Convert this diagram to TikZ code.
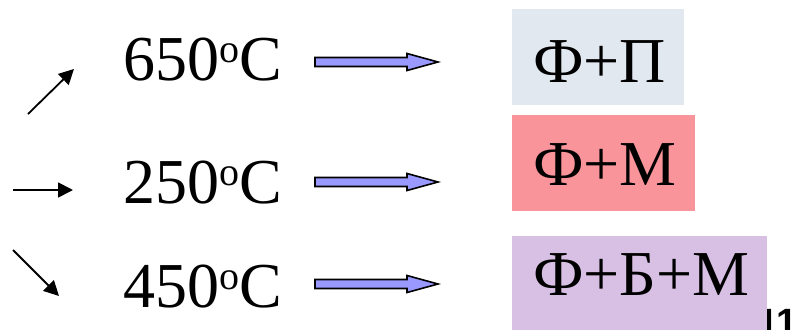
\documentclass[tikz,border=0pt]{standalone}
\usepackage{fontspec}
\setmainfont{Liberation Serif}
\newfontfamily\lsans{Liberation Sans}
\usetikzlibrary{arrows.meta}
\definecolor{boxgrey}{RGB}{226,232,239}
\definecolor{boxpink}{RGB}{250,148,155}
\definecolor{boxlilac}{RGB}{216,192,228}
\definecolor{arrowblue}{RGB}{153,153,255}
\newcommand{\dego}{{\fontsize{40}{40}\selectfont\raisebox{18pt}{o}}}
\tikzset{
  temp/.style={anchor=base west, inner sep=0pt, font=\fontsize{64}{70}\selectfont},
  phase/.style={anchor=north west, inner ysep=0pt, inner xsep=21pt, align=left,
                font=\fontsize{64}{70}\selectfont},
  thinarrow/.style={line width=1.8pt, -{Triangle[length=15pt,width=15pt]}},
  barrow/.style={draw=black, line width=1.6pt, fill=arrowblue, line join=miter}
}
\newcommand{\blockarrow}[2]{% #1 = x start coordinate name, #2 = centre y
  \draw[barrow] (315,#2-4.5) -- (407,#2-4.5) -- (407,#2-8.5) -- (438,#2)
     -- (407,#2+8.5) -- (407,#2+4.5) -- (315,#2+4.5) -- cycle;}
\begin{document}
\begin{tikzpicture}[x=1pt,y=-1pt]
\useasboundingbox (0,0) rectangle (794,329);
\begin{scope}
\clip (0,0) rectangle (794,329);
% left arrows
\coordinate (u0) at (28,114); \coordinate (u1) at (74,69);
\coordinate (r0) at (13,190); \coordinate (r1) at (73,190);
\coordinate (d0) at (13,250); \coordinate (d1) at (59,296);
\draw[thinarrow] (u0) -- (u1);
\draw[thinarrow] (r0) -- (r1);
\draw[thinarrow] (d0) -- (d1);
% temperatures
\node[temp] (t1) at (123,81) {650\dego C};
\node[temp] (t2) at (123,203) {250\dego C};
\node[temp] (t3) at (123,307) {450\dego C};
% block arrows
\blockarrow{t1}{62}
\blockarrow{t2}{182}
\blockarrow{t3}{284}
% cut-off label
\node[anchor=base west, inner sep=0pt, font=\lsans\bfseries\fontsize{38}{40}\selectfont] (lab) at (757,335) {11};
% phase boxes
\node[phase, fill=boxgrey, text width=130pt, text height=73pt, text depth=23pt] (p1) at (512,9) {Ф+П};
\node[phase, fill=boxpink, text width=141pt, text height=70pt, text depth=26pt] (p2) at (512,115) {Ф+М};
\node[phase, fill=boxlilac, text width=213pt, text height=59pt, text depth=40pt] (p3) at (512,236) {Ф+Б+М};
\end{scope}
\end{tikzpicture}
\end{document}
